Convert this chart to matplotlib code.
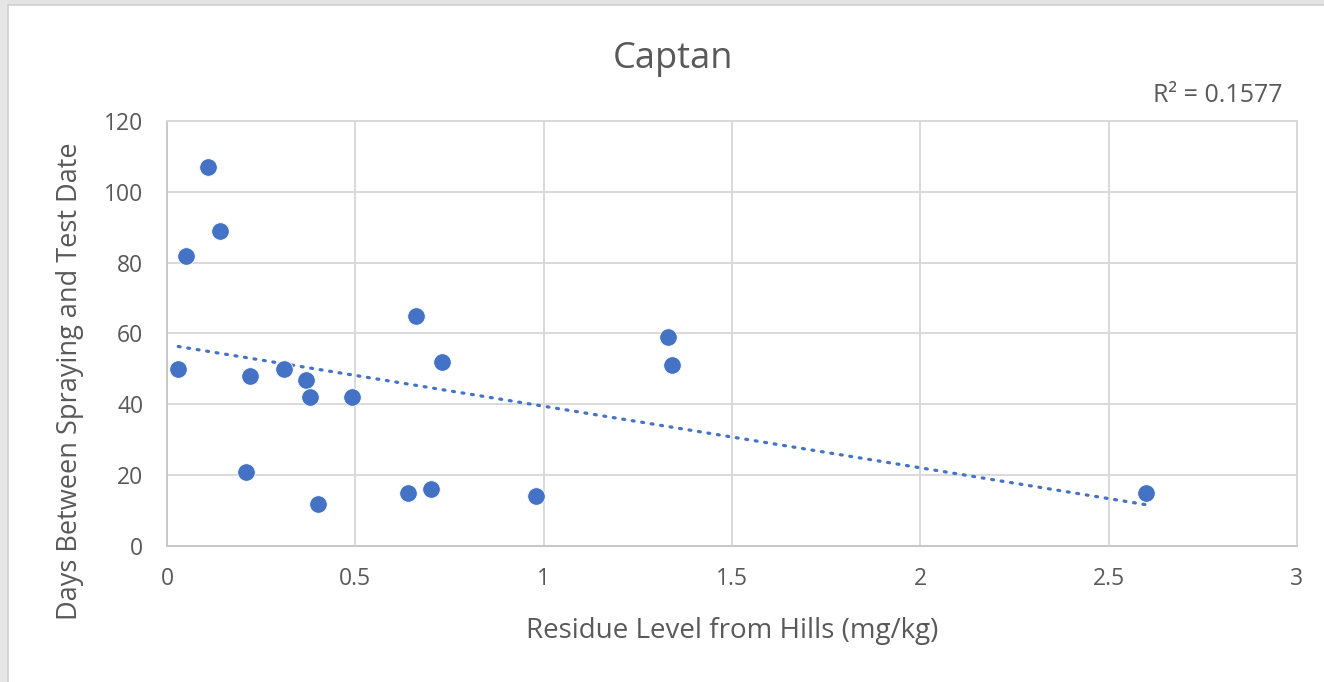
import numpy as np
import matplotlib.pyplot as plt
from matplotlib.patches import Rectangle

plt.rcParams['font.family'] = ['Open Sans', 'DejaVu Sans']

# Residue level (mg/kg) and days between spraying and test date
residue = [0.03, 0.05, 0.11, 0.14, 0.21, 0.22, 0.31, 0.37, 0.38, 0.40,
           0.49, 0.64, 0.66, 0.70, 0.73, 0.98, 1.33, 1.34, 2.60]
days = [50, 82, 107, 89, 21, 48, 50, 47, 42, 12,
        42, 15, 65, 16, 52, 14, 59, 51, 15]

x_ticks = [0, 0.5, 1, 1.5, 2, 2.5, 3]
x_tick_labels = ['0', '0.5', '1', '1.5', '2', '2.5', '3']
y_ticks = [0, 20, 40, 60, 80, 100, 120]

title = 'Captan'
x_label = 'Residue Level from Hills (mg/kg)'
y_label = 'Days Between Spraying and Test Date'
r2_text = 'R² = 0.1577'

text_color = '#595959'
grid_color = '#d9d9d9'
point_color = '#4472c4'

fig = plt.figure(figsize=(13.24, 6.82), dpi=100)
fig.patch.set_facecolor('white')

# window frame around the chart
fig.patches.append(Rectangle((0, 0.992), 1, 0.008, transform=fig.transFigure,
                             facecolor='#e3e3e3', edgecolor='none', zorder=0))
fig.patches.append(Rectangle((0, 0), 0.006, 1, transform=fig.transFigure,
                             facecolor='#e6e6e6', edgecolor='none', zorder=0))
fig.patches.append(Rectangle((0.006, -0.01), 1.0, 1.002, transform=fig.transFigure,
                             facecolor='none', edgecolor='#cfcfcf', linewidth=1.2, zorder=1))

ax = fig.add_axes([0.1261, 0.1994, 0.8535, 0.6232])
ax.set_xlim(0, 3)
ax.set_ylim(0, 120)
ax.set_xticks(x_ticks)
ax.set_xticklabels(x_tick_labels)
ax.set_yticks(y_ticks)

ax.grid(True, color=grid_color, linewidth=1.4, zorder=0)
ax.set_axisbelow(True)
for side in ['top', 'right', 'left', 'bottom']:
    ax.spines[side].set_color(grid_color)
    ax.spines[side].set_linewidth(1.4)
ax.spines['bottom'].set_color('#c8c8c8')
ax.spines['left'].set_color('#c8c8c8')

ax.tick_params(axis='both', length=0, labelsize=16.5, labelcolor=text_color)
ax.tick_params(axis='x', pad=15)
ax.tick_params(axis='y', pad=17)

ax.scatter(residue, days, s=160, color=point_color, edgecolors='white',
           linewidths=0.6, zorder=3)

# linear trendline over the data range
coef = np.polyfit(residue, days, 1)
xs = np.array([min(residue), max(residue)])
ax.plot(xs, np.polyval(coef, xs), color=point_color, linewidth=2.3,
        linestyle=(0, (0.6, 2.4)), dash_capstyle='round', zorder=2)

fig.text(0.508, 0.913, title, ha='center', va='center', fontsize=26,
         color=text_color)
ax.text(0.9876, 1.061, r2_text, transform=ax.transAxes, ha='right', va='center',
        fontsize=18, color=text_color)
ax.set_xlabel(x_label, fontsize=20, color=text_color)
ax.set_ylabel(y_label, fontsize=19.5, color=text_color)
ax.xaxis.set_label_coords(0.5, -0.2)
ax.yaxis.set_label_coords(-0.086, 0.388)
ax.xaxis.label.set_va('center')
ax.yaxis.label.set_va('center')

fig.savefig('out.png', dpi=100, facecolor=fig.get_facecolor())
